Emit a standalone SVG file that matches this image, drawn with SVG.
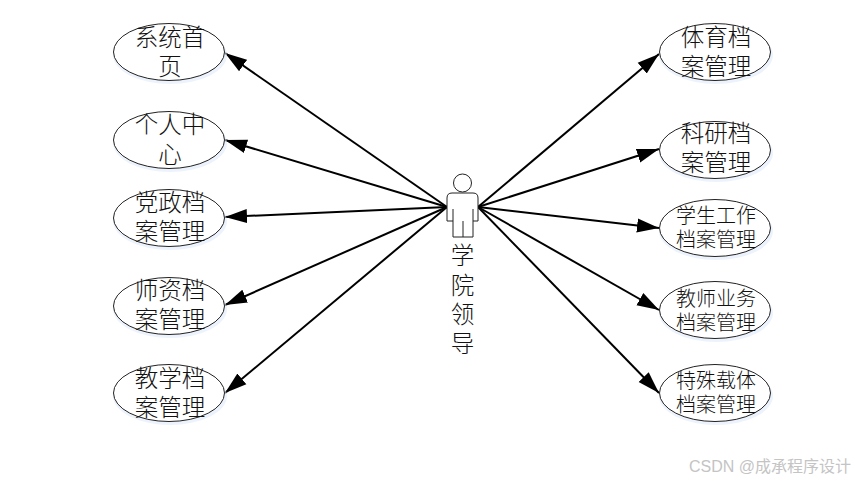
<svg xmlns="http://www.w3.org/2000/svg" width="855" height="481" viewBox="0 0 855 481">
<defs>
<marker id="arrow" markerUnits="userSpaceOnUse" markerWidth="24" markerHeight="16" refX="22" refY="8" orient="auto"><path d="M0 1 L22 8 L0 15 Z" fill="#000"/></marker>
</defs>
<style>
.u{fill:#fff;stroke:#222;stroke-width:1}
.shadow{fill:#dfeafa;opacity:.55}
.t{font-family:"Noto Sans CJK SC","Liberation Serif",serif;font-size:23.5px;fill:#111;text-anchor:middle;font-weight:300}
.s{font-size:20px}
.c line{stroke:#000;stroke-width:2;marker-end:url(#arrow)}
</style>
<rect width="855" height="481" fill="#fff"/>
<g id="connectors" class="c">
<line x1="447" y1="207" x2="225" y2="53"/>
<line x1="447" y1="207" x2="225" y2="140"/>
<line x1="447" y1="207" x2="225" y2="217"/>
<line x1="447" y1="207" x2="225" y2="305"/>
<line x1="447" y1="207" x2="225" y2="393"/>
<line x1="478" y1="207" x2="659" y2="54"/>
<line x1="478" y1="207" x2="659" y2="149"/>
<line x1="478" y1="207" x2="659" y2="228"/>
<line x1="478" y1="207" x2="659" y2="310"/>
<line x1="478" y1="207" x2="659" y2="393"/>
</g>
<g id="actor">
<circle cx="462.5" cy="183" r="9" fill="#fff" stroke="#222"/>
<path d="M447 221 V198 Q447 193 452 193 H473 Q478 193 478 198 V221 H473 V237 H453 V221 Z M453 209 V221 M473 209 V221 M463 221 V237" fill="#fff" stroke="#222" stroke-width="1"/>
<text class="t"><tspan x="462.5" y="264">学</tspan><tspan x="462.5" y="294">院</tspan><tspan x="462.5" y="323">领</tspan><tspan x="462.5" y="352">导</tspan></text>
</g>
<g id="n1"><ellipse class="shadow" cx="170" cy="55" rx="57" ry="29"/><ellipse class="u" cx="169" cy="52" rx="55.5" ry="28.5"/><text class="t"><tspan x="170" y="46">系统首</tspan><tspan x="170" y="75">页</tspan></text></g>
<g id="n2"><ellipse class="shadow" cx="170" cy="143" rx="57" ry="29"/><ellipse class="u" cx="169" cy="140" rx="55.5" ry="28.5"/><text class="t"><tspan x="170" y="133">个人中</tspan><tspan x="170" y="163">心</tspan></text></g>
<g id="n3"><ellipse class="shadow" cx="170" cy="221" rx="57" ry="29"/><ellipse class="u" cx="169" cy="218" rx="55.5" ry="28.5"/><text class="t"><tspan x="170" y="211">党政档</tspan><tspan x="170" y="240">案管理</tspan></text></g>
<g id="n4"><ellipse class="shadow" cx="170" cy="309" rx="57" ry="29"/><ellipse class="u" cx="169" cy="306" rx="55.5" ry="28.5"/><text class="t"><tspan x="170" y="299">师资档</tspan><tspan x="170" y="328">案管理</tspan></text></g>
<g id="n5"><ellipse class="shadow" cx="170" cy="396" rx="57" ry="29"/><ellipse class="u" cx="169" cy="393" rx="55.5" ry="28.5"/><text class="t"><tspan x="170" y="387">教学档</tspan><tspan x="170" y="416">案管理</tspan></text></g>
<g id="n6"><ellipse class="shadow" cx="716" cy="55" rx="57" ry="29"/><ellipse class="u" cx="715" cy="52" rx="55.5" ry="28.5"/><text class="t"><tspan x="716" y="46">体育档</tspan><tspan x="716" y="75">案管理</tspan></text></g>
<g id="n7"><ellipse class="shadow" cx="716" cy="153" rx="57" ry="29"/><ellipse class="u" cx="715" cy="150" rx="55.5" ry="28.5"/><text class="t"><tspan x="716" y="142">科研档</tspan><tspan x="716" y="171">案管理</tspan></text></g>
<g id="n8"><ellipse class="shadow" cx="716" cy="231" rx="57" ry="29"/><ellipse class="u" cx="715" cy="228" rx="55.5" ry="28.5"/><text class="t s"><tspan x="716" y="223">学生工作</tspan><tspan x="716" y="247">档案管理</tspan></text></g>
<g id="n9"><ellipse class="shadow" cx="716" cy="313" rx="57" ry="29"/><ellipse class="u" cx="715" cy="310" rx="55.5" ry="28.5"/><text class="t s"><tspan x="716" y="306">教师业务</tspan><tspan x="716" y="330">档案管理</tspan></text></g>
<g id="n10"><ellipse class="shadow" cx="716" cy="396" rx="57" ry="29"/><ellipse class="u" cx="715" cy="393" rx="55.5" ry="28.5"/><text class="t s"><tspan x="716" y="388">特殊载体</tspan><tspan x="716" y="412">档案管理</tspan></text></g>
<text x="851" y="472" text-anchor="end" font-family="'Liberation Sans','Noto Sans CJK SC',sans-serif" font-size="16" fill="#c4c4c4">CSDN @成承程序设计</text>
</svg>
